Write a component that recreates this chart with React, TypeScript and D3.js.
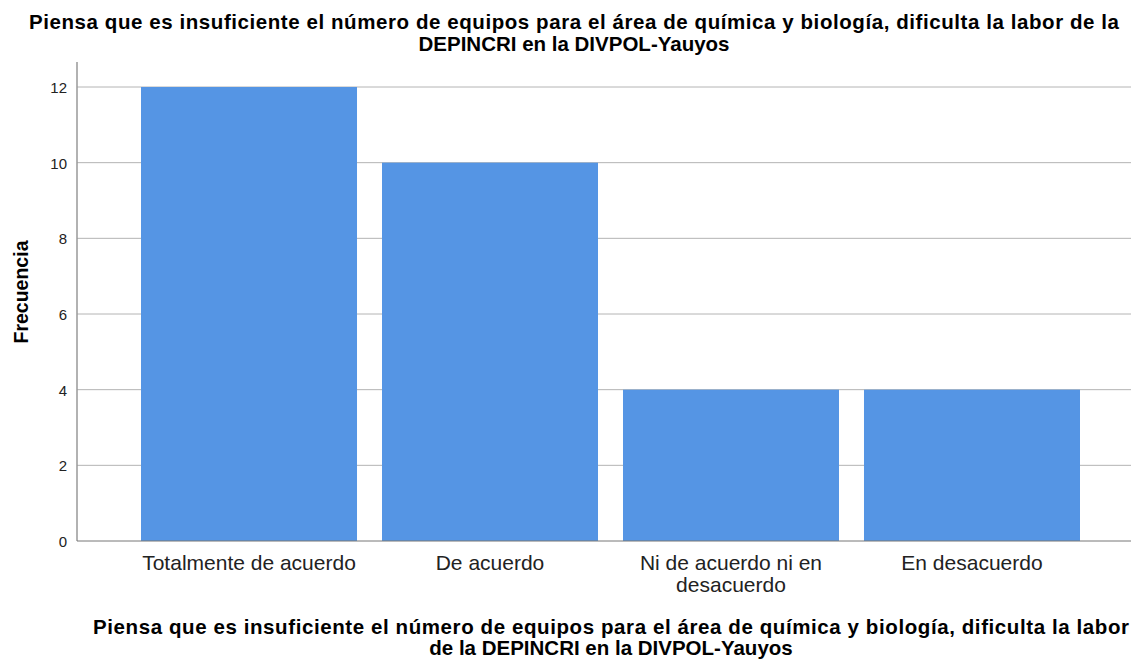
import * as d3 from "d3";

const categories = [
  ["Totalmente de acuerdo"],
  ["De acuerdo"],
  ["Ni de acuerdo ni en", "desacuerdo"],
  ["En desacuerdo"],
];
const frequencies = [12, 10, 4, 4];
const yTicks = [0, 2, 4, 6, 8, 10, 12];
const titleLines = [
  "Piensa que es insuficiente el número de equipos para el área de química y biología, dificulta la labor de la",
  "DEPINCRI en la DIVPOL-Yauyos",
];
const xTitleLines = [
  "Piensa que es insuficiente el número de equipos para el área de química y biología, dificulta la labor",
  "de la DEPINCRI en la DIVPOL-Yauyos",
];

export default function App() {
  const width = 1134;
  const height = 659;
  const left = 77;
  const right = 1131;
  const top = 62;
  const bottom = 541;

  const x = d3
    .scaleBand<number>()
    .domain(d3.range(categories.length))
    .range([128.5, 1092.5])
    .paddingInner(0.1037)
    .paddingOuter(0.0519);

  const y = d3.scaleLinear().domain([0, 12]).range([bottom, 87]);

  const font = "'Liberation Sans', Arial, sans-serif";

  return (
    <svg
      width={width}
      height={height}
      style={{ position: "absolute", left: 0, top: 0, background: "#fff" }}
      fontFamily={font}
    >
      {titleLines.map((t, i) => (
        <text
          key={i}
          x={574}
          y={29 + i * 22}
          textAnchor="middle"
          fontSize={20.5}
          fontWeight="bold"
          fill="#000"
          textLength={i === 0 ? 1090 : undefined}
          lengthAdjust="spacing"
        >
          {t}
        </text>
      ))}

      {yTicks.map((t) => (
        <g key={t}>
          {t > 0 && (
            <line
              x1={left}
              x2={right}
              y1={y(t)}
              y2={y(t)}
              stroke="#b4b4b4"
              strokeWidth={1}
            />
          )}
          <text
            x={67}
            y={y(t)}
            dy="0.4em"
            textAnchor="end"
            fontSize={15}
            fill="#222"
          >
            {t}
          </text>
        </g>
      ))}

      {frequencies.map((v, i) => (
        <rect
          key={i}
          x={x(i)}
          y={y(v)}
          width={x.bandwidth()}
          height={y(0) - y(v)}
          fill="#5595e4"
        />
      ))}

      <line x1={left} x2={left} y1={top} y2={bottom} stroke="#999" strokeWidth={1.5} />
      <line x1={left} x2={right} y1={bottom} y2={bottom} stroke="#777" />

      {categories.map((lines, i) =>
        lines.map((l, j) => (
          <text
            key={`${i}-${j}`}
            x={(x(i) ?? 0) + x.bandwidth() / 2}
            y={570 + j * 22}
            textAnchor="middle"
            fontSize={21}
            fill="#222"
          >
            {l}
          </text>
        ))
      )}

      <text
        transform={`translate(28, 292) rotate(-90)`}
        textAnchor="middle"
        fontSize={19.5}
        fontWeight="bold"
        fill="#000"
      >
        Frecuencia
      </text>

      {xTitleLines.map((t, i) => (
        <text
          key={i}
          x={611}
          y={634 + i * 21}
          textAnchor="middle"
          fontSize={20.5}
          fontWeight="bold"
          fill="#000"
          textLength={i === 0 ? 1036 : undefined}
          lengthAdjust="spacing"
        >
          {t}
        </text>
      ))}
    </svg>
  );
}
